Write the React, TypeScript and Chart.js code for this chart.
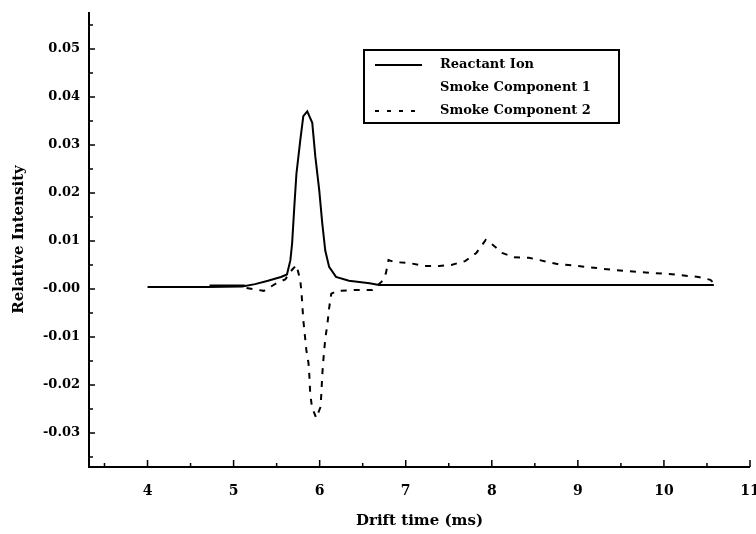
import { useEffect, useRef } from 'react';
import { Chart, registerables } from 'chart.js';

Chart.register(...registerables);

// ---- Data ----
const seriesNames = ['Reactant Ion', 'Smoke Component 1', 'Smoke Component 2'];

const reactantX = [4.0, 4.7, 5.1, 5.25, 5.4, 5.55, 5.62, 5.66, 5.68, 5.705, 5.73, 5.775, 5.81, 5.856, 5.914, 5.95, 5.995, 6.03, 6.065, 6.11, 6.19, 6.34, 6.58, 6.69, 8.0, 10.58];
const reactantY = [0.0004, 0.0004, 0.0005, 0.001, 0.0017, 0.0025, 0.003, 0.006, 0.0095, 0.017, 0.024, 0.031, 0.036, 0.037, 0.0346, 0.0275, 0.0206, 0.0137, 0.008, 0.0046, 0.0025, 0.0017, 0.0012, 0.0008, 0.0008, 0.0008];

const smoke1X = [4.72, 5.13];
const smoke1Y = [0.0007, 0.0007];

const smoke2X = [5.15, 5.35, 5.5, 5.6, 5.68, 5.73, 5.775, 5.79, 5.8, 5.81, 5.83, 5.845, 5.87, 5.88, 5.89, 5.91, 5.96, 6.01, 6.02, 6.03, 6.04, 6.065, 6.09, 6.11, 6.135, 6.2, 6.45, 6.61, 6.72, 6.77, 6.8, 6.87, 7.04, 7.21, 7.39, 7.53, 7.69, 7.82, 7.93, 8.01, 8.12, 8.26, 8.43, 8.76, 9.1, 9.39, 9.74, 10.06, 10.4, 10.54, 10.58];
const smoke2Y = [0.0002, -0.0004, 0.0012, 0.002, 0.004, 0.005, 0.0018, -0.001, -0.0037, -0.0065, -0.01, -0.0127, -0.0154, -0.018, -0.0217, -0.0246, -0.0269, -0.0246, -0.0217, -0.018, -0.0154, -0.0104, -0.0073, -0.004, -0.001, -0.0004, -0.0002, -0.0002, 0.0015, 0.0033, 0.006, 0.0056, 0.0054, 0.0048, 0.0048, 0.005, 0.0058, 0.0075, 0.0102, 0.0092, 0.0075, 0.0066, 0.0065, 0.0052, 0.0046, 0.004, 0.0035, 0.0031, 0.0025, 0.0019, 0.0012];

const xMajorTicks = [4, 5, 6, 7, 8, 9, 10, 11];
const xMinorTicks = [3.5, 4.5, 5.5, 6.5, 7.5, 8.5, 9.5, 10.5];
const yMajorTicks = [-0.03, -0.02, -0.01, 0, 0.01, 0.02, 0.03, 0.04, 0.05];
const yMajorLabels = ['-0.03', '-0.02', '-0.01', '-0.00', '0.01', '0.02', '0.03', '0.04', '0.05'];
const yMinorTicks = [-0.035, -0.025, -0.015, -0.005, 0.005, 0.015, 0.025, 0.035, 0.045, 0.055];

const xTitle = 'Drift time (ms)';
const yTitle = 'Relative Intensity';

const FONT = 'DejaVu Serif';

const toPoints = (xs: number[], ys: number[]) => xs.map((x, i) => ({ x, y: ys[i] }));
const near = (a: number, b: number) => Math.abs(a - b) < 1e-9;

const axesPlugin = {
  id: 'axesAndLegend',
  afterDatasetsDraw(chart: any) {
    const { ctx, chartArea: a } = chart;
    const xs = chart.scales.x;
    const ys = chart.scales.y;
    ctx.save();
    ctx.strokeStyle = '#000';
    ctx.lineWidth = 2;
    ctx.beginPath();
    ctx.moveTo(a.left, a.top);
    ctx.lineTo(a.left, a.bottom);
    ctx.lineTo(a.right, a.bottom);
    ctx.stroke();

    ctx.lineWidth = 1.5;
    ctx.beginPath();
    xMajorTicks.forEach((v) => {
      const px = xs.getPixelForValue(v);
      ctx.moveTo(px, a.bottom);
      ctx.lineTo(px, a.bottom - 7);
    });
    xMinorTicks.forEach((v) => {
      const px = xs.getPixelForValue(v);
      ctx.moveTo(px, a.bottom);
      ctx.lineTo(px, a.bottom - 4);
    });
    yMajorTicks.forEach((v) => {
      const py = ys.getPixelForValue(v);
      ctx.moveTo(a.left, py);
      ctx.lineTo(a.left + 6, py);
    });
    yMinorTicks.forEach((v) => {
      const py = ys.getPixelForValue(v);
      ctx.moveTo(a.left, py);
      ctx.lineTo(a.left + 4, py);
    });
    ctx.stroke();

    // Legend box
    const bx = 364, by = 50, bw = 255, bh = 73;
    ctx.fillStyle = '#fff';
    ctx.fillRect(bx, by, bw, bh);
    ctx.lineWidth = 2;
    ctx.strokeRect(bx, by, bw, bh);
    ctx.font = `bold 13px "${FONT}"`;
    ctx.textBaseline = 'middle';
    ctx.fillStyle = '#000';
    chart.data.datasets.forEach((ds: any, i: number) => {
      const ry = 65 + i * 23;
      if (i !== 1) {
        ctx.beginPath();
        ctx.lineWidth = 2;
        ctx.setLineDash(i === 2 ? [4, 8] : []);
        ctx.moveTo(375, ry);
        ctx.lineTo(422, ry);
        ctx.stroke();
        ctx.setLineDash([]);
      }
      ctx.fillText(ds.label, 440, ry);
    });
    ctx.restore();
  },
};

export default function App() {
  const ref = useRef<HTMLCanvasElement | null>(null);

  useEffect(() => {
    if (!ref.current) return;
    const chart = new Chart(ref.current, {
      type: 'line',
      data: {
        datasets: [
          {
            label: seriesNames[0],
            data: toPoints(reactantX, reactantY),
            borderColor: '#000',
            borderWidth: 2,
            pointRadius: 0,
            tension: 0,
          },
          {
            label: seriesNames[1],
            data: toPoints(smoke1X, smoke1Y),
            borderColor: '#000',
            borderWidth: 2,
            pointRadius: 0,
            tension: 0,
          },
          {
            label: seriesNames[2],
            data: toPoints(smoke2X, smoke2Y),
            borderColor: '#000',
            borderWidth: 2,
            borderDash: [6, 7],
            pointRadius: 0,
            tension: 0,
          },
        ],
      },
      options: {
        animation: false,
        responsive: true,
        maintainAspectRatio: false,
        layout: { padding: { top: 12, right: 6, left: 0, bottom: 0 } },
        plugins: { legend: { display: false }, tooltip: { enabled: false } },
        scales: {
          x: {
            type: 'linear',
            min: 3.32,
            max: 11,
            grid: { display: false, drawTicks: false },
            border: { display: false },
            afterBuildTicks: (s: any) => {
              s.ticks = [...xMinorTicks, ...xMajorTicks].sort((p, q) => p - q).map((v) => ({ value: v }));
            },
            afterFit: (s: any) => {
              s.height = 67;
              s.paddingLeft = 0;
              s.paddingRight = 0;
            },
            ticks: {
              autoSkip: false,
              maxRotation: 0,
              padding: 16,
              color: '#000',
              font: { family: FONT, size: 14, weight: 'bold' },
              callback: (v: any) => (xMajorTicks.some((m) => near(m, Number(v))) ? String(Number(v)) : ''),
            },
            title: {
              display: true,
              text: xTitle,
              color: '#000',
              font: { family: FONT, size: 15, weight: 'bold' },
              padding: { top: 0, bottom: 4 },
            },
          },
          y: {
            type: 'linear',
            min: -0.0371,
            max: 0.0577,
            grid: { display: false, drawTicks: false },
            border: { display: false },
            afterBuildTicks: (s: any) => {
              s.ticks = [...yMinorTicks, ...yMajorTicks].sort((p, q) => p - q).map((v) => ({ value: v }));
            },
            afterFit: (s: any) => {
              s.width = 89;
              s.paddingTop = 0;
              s.paddingBottom = 0;
            },
            ticks: {
              autoSkip: false,
              padding: 9,
              color: '#000',
              font: { family: FONT, size: 13, weight: 'bold' },
              callback: (v: any) => {
                const idx = yMajorTicks.findIndex((m) => near(m, Number(v)));
                return idx >= 0 ? yMajorLabels[idx] : '';
              },
            },
            title: {
              display: true,
              text: yTitle,
              color: '#000',
              font: { family: FONT, size: 15, weight: 'bold' },
              padding: { top: 10, bottom: 0 },
            },
          },
        },
      },
      plugins: [axesPlugin],
    });
    return () => chart.destroy();
  }, []);

  return (
    <div style={{ position: 'fixed', left: 0, top: 0, width: 756, height: 534, background: '#fff' }}>
      <canvas ref={ref} />
    </div>
  );
}
